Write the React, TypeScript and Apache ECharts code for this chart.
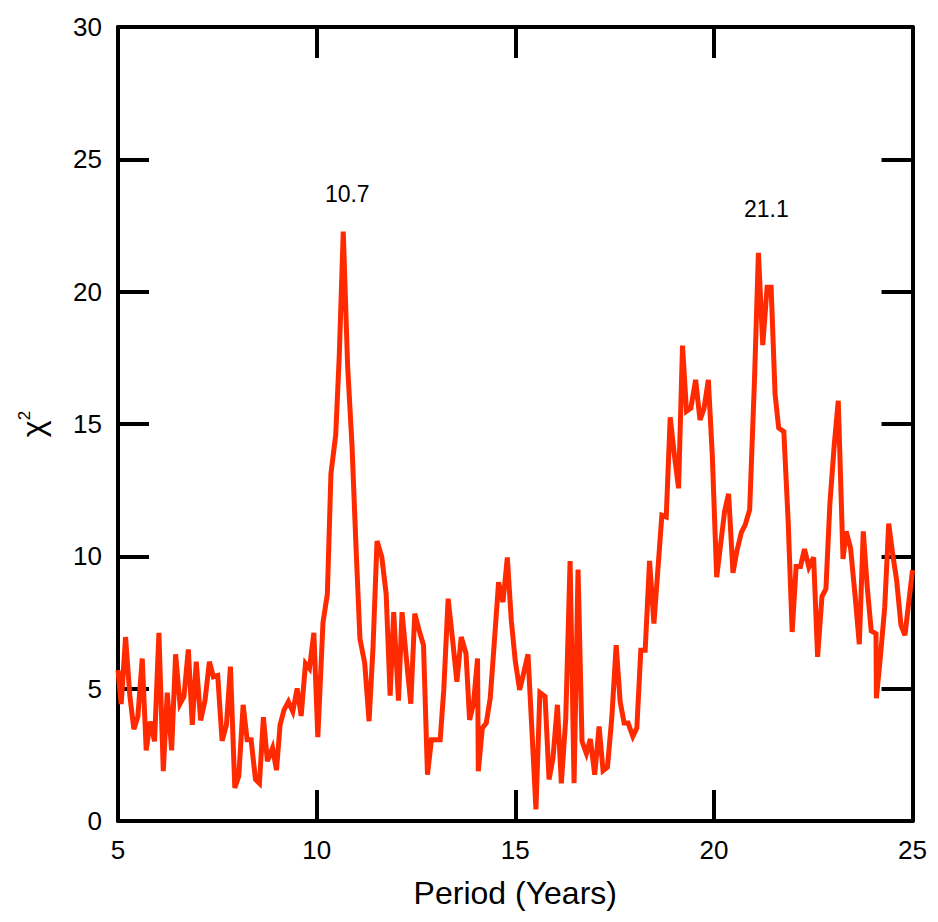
import React, { useEffect, useRef } from "react";
import * as echarts from "echarts";

const periods: number[] = [
  5.0, 5.08, 5.19, 5.3, 5.4, 5.5, 5.61, 5.71, 5.81, 5.92,
  6.03, 6.14, 6.24, 6.35, 6.45, 6.56, 6.66, 6.77, 6.87, 6.97,
  7.08, 7.19, 7.3, 7.4, 7.51, 7.62, 7.73, 7.83, 7.94, 8.04,
  8.15, 8.25, 8.35, 8.46, 8.56, 8.66, 8.76, 8.89, 8.99, 9.08,
  9.18, 9.29, 9.4, 9.51, 9.61, 9.72, 9.82, 9.93, 10.03, 10.16,
  10.27, 10.36, 10.48, 10.57, 10.67, 10.78, 10.89, 10.99, 11.09, 11.21,
  11.32, 11.42, 11.52, 11.64, 11.75, 11.85, 11.94, 12.06, 12.15, 12.26,
  12.37, 12.47, 12.58, 12.69, 12.79, 12.89, 13.0, 13.11, 13.2, 13.31,
  13.43, 13.53, 13.64, 13.76, 13.85, 13.95, 14.05, 14.07, 14.17, 14.27,
  14.37, 14.47, 14.58, 14.69, 14.8, 14.9, 15.0, 15.11, 15.21, 15.32,
  15.42, 15.52, 15.62, 15.75, 15.85, 15.95, 16.06, 16.16, 16.27, 16.38,
  16.48, 16.58, 16.68, 16.79, 16.89, 17.0, 17.11, 17.21, 17.32, 17.43,
  17.54, 17.64, 17.74, 17.84, 17.96, 18.06, 18.16, 18.27, 18.38, 18.49,
  18.59, 18.69, 18.8, 18.9, 19.0, 19.11, 19.21, 19.31, 19.42, 19.54,
  19.65, 19.75, 19.86, 19.96, 20.07, 20.17, 20.27, 20.37, 20.48, 20.58,
  20.69, 20.79, 20.9, 21.02, 21.12, 21.23, 21.34, 21.44, 21.54, 21.63,
  21.76, 21.87, 21.97, 22.07, 22.18, 22.28, 22.39, 22.51, 22.61, 22.72,
  22.82, 22.92, 23.03, 23.13, 23.25, 23.33, 23.44, 23.55, 23.66, 23.76,
  23.86, 23.96, 24.08, 24.09, 24.19, 24.3, 24.4, 24.5, 24.6, 24.71,
  24.81, 24.91, 25.0,
];

const chiSquare: number[] = [
  5.7, 4.42, 6.95, 4.7, 3.47, 3.95, 6.14, 2.67, 3.76, 3.01,
  7.11, 1.88, 4.85, 2.67, 6.3, 4.42, 4.7, 6.48, 3.63, 6.02,
  3.8, 4.55, 6.02, 5.45, 5.5, 3.03, 3.63, 5.83, 1.25, 1.69,
  4.39, 3.07, 3.07, 1.57, 1.42, 3.92, 2.26, 2.76, 1.92, 3.63,
  4.2, 4.51, 4.14, 5.01, 3.97, 5.95, 5.76, 7.11, 3.17, 7.5,
  8.58, 13.12, 14.58, 17.58, 22.27, 17.2, 14.2, 10.4, 6.89, 5.97,
  3.77, 6.58, 10.58, 9.97, 8.58, 4.74, 7.89, 4.55, 7.89, 6.12,
  4.43, 7.84, 7.2, 6.64, 1.75, 3.07, 3.07, 3.07, 4.95, 8.4,
  6.74, 5.26, 6.95, 6.33, 3.82, 4.45, 6.14, 1.88, 3.51, 3.7,
  4.64, 6.7, 9.02, 8.27, 9.96, 7.58, 6.05, 4.95, 5.58, 6.3,
  3.4, 0.44, 4.85, 4.7, 1.57, 2.38, 4.39, 1.42, 3.85, 9.82,
  1.43, 9.5, 3.01, 2.55, 3.1, 1.75, 3.57, 1.9, 2.03, 3.9,
  6.64, 4.51, 3.7, 3.7, 3.2, 3.51, 6.45, 6.45, 9.83, 7.46,
  9.5, 11.55, 11.49, 15.25, 13.9, 12.57, 17.96, 15.48, 15.6, 16.67,
  15.15, 15.58, 16.67, 13.8, 9.21, 10.46, 11.71, 12.36, 9.38, 10.21,
  10.9, 11.2, 11.76, 16.6, 21.47, 17.98, 20.17, 20.17, 16.12, 14.85,
  14.71, 11.3, 7.14, 9.62, 9.62, 10.27, 9.59, 9.96, 6.2, 8.48,
  8.77, 12.0, 14.22, 15.88, 9.9, 10.94, 10.31, 8.58, 6.68, 10.94,
  8.83, 7.18, 7.08, 4.64, 6.2, 8.08, 11.24, 10.09, 9.09, 7.39,
  7.02, 8.33, 9.48,
];

const peakLabels: string[] = ["10.7", "21.1"];
const peakPeriods: number[] = [10.67, 21.12];
const peakValues: number[] = [22.27, 21.47];

const FONT = "'Liberation Sans', Arial, Helvetica, sans-serif";

export default function App() {
  const ref = useRef<HTMLDivElement>(null);

  useEffect(() => {
    if (!ref.current) return;
    const chart = echarts.init(ref.current, undefined, { renderer: "svg" });
    const data = periods.map((p, i) => [p, chiSquare[i]]);

    const axisLine = { show: true, onZero: false, lineStyle: { color: "#000", width: 4 } };
    const axisTick = { show: true, inside: true, length: 31, lineStyle: { color: "#000", width: 4 } };

    chart.setOption({
      animation: false,
      backgroundColor: "#fff",
      grid: { left: 104, right: 14, top: 19, bottom: 89, containLabel: false },
      xAxis: [
        {
          type: "value",
          min: 5,
          max: 25,
          interval: 5,
          position: "bottom",
          axisLine,
          axisTick,
          splitLine: { show: false },
          axisLabel: { color: "#000", fontSize: 26, fontFamily: FONT, margin: 16 },
          name: "Period (Years)",
          nameLocation: "middle",
          nameGap: 56,
          nameTextStyle: { color: "#000", fontSize: 32, fontFamily: FONT },
        },
        {
          type: "value",
          min: 5,
          max: 25,
          interval: 5,
          position: "top",
          axisLine,
          axisTick,
          splitLine: { show: false },
          axisLabel: { show: false },
        },
      ],
      yAxis: [
        {
          type: "value",
          min: 0,
          max: 30,
          interval: 5,
          position: "left",
          axisLine,
          axisTick,
          splitLine: { show: false },
          axisLabel: { color: "#000", fontSize: 26, fontFamily: FONT, margin: 16 },
          name: "{a|χ}{b|2}",
          nameLocation: "middle",
          nameGap: 68,
          nameRotate: 90,
          nameTextStyle: {
            color: "#000",
            fontFamily: FONT,
            rich: {
              a: { fontSize: 32, fontFamily: FONT, color: "#000", lineHeight: 34 },
              b: { fontSize: 17, fontFamily: FONT, color: "#000", verticalAlign: "top", lineHeight: 34 },
            },
          },
        },
        {
          type: "value",
          min: 0,
          max: 30,
          interval: 5,
          position: "right",
          axisLine,
          axisTick,
          splitLine: { show: false },
          axisLabel: { show: false },
        },
      ],
      series: [
        {
          type: "line",
          data,
          xAxisIndex: 0,
          yAxisIndex: 0,
          showSymbol: false,
          symbol: "none",
          lineStyle: { color: "#ff2a00", width: 5, join: "miter", cap: "butt" },
          markPoint: {
            symbol: "rect",
            symbolSize: 1,
            itemStyle: { color: "rgba(0,0,0,0)" },
            label: {
              show: true,
              color: "#000",
              fontSize: 23,
              fontFamily: FONT,
              position: "top",
              distance: 26,
              formatter: (p: any) => p.name,
            },
            data: peakLabels.map((name, i) => ({
              name,
              coord: [peakPeriods[i], peakValues[i]],
              label: { offset: i === 0 ? [4, 0] : [8, -6] },
            })),
          },
        },
      ],
    });

    return () => chart.dispose();
  }, []);

  return <div ref={ref} style={{ width: 922, height: 906 }} />;
}
